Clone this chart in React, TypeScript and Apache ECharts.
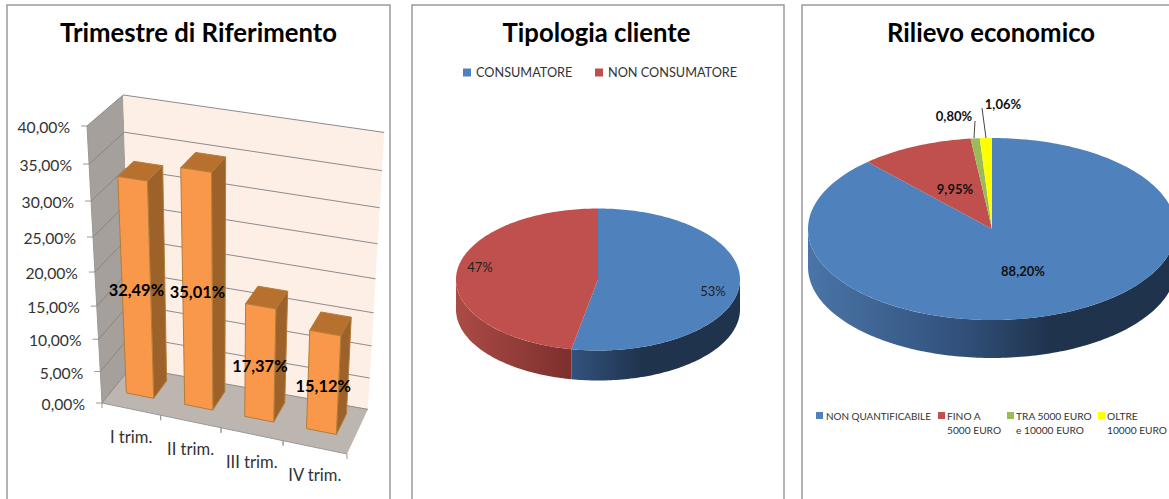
import React, { useEffect, useRef } from "react";
import * as echarts from "echarts";

const quarters = ["I trim.", "II trim.", "III trim.", "IV trim."];
const quarterValues = [32.49, 35.01, 17.37, 15.12];
const valueTicks = [0, 5, 10, 15, 20, 25, 30, 35, 40];
const clientNames = ["CONSUMATORE", "NON CONSUMATORE"];
const clientValues = [53, 47];
const clientLabels = ["53%", "47%"];
const amountNames = ["NON QUANTIFICABILE", "FINO A\n5000 EURO", "TRA 5000 EURO\ne 10000 EURO", "OLTRE\n10000 EURO"];
const amountValues = [88.2, 9.95, 0.8, 1.06];
const amountLabels = ["88,20%", "9,95%", "0,80%", "1,06%"];

const FONT = "Lato, 'Open Sans', sans-serif";
const pieColors = ["#4f81bd", "#c0504d", "#9bbb59", "#ffff00"];

const O = [102, 403], PX = [347, 454], PY = [87, 126], PZ = [131, 367];
const wX = 0.944, wY = 0.897, wZ = 1.03;
function project(X: number, Y: number, Z: number) {
  const w = 1 + X * (wX - 1) + Y * (wY - 1) + Z * (wZ - 1);
  const f = (i: number) => (O[i] + X * (wX * PX[i] - O[i]) + Y * (wY * PY[i] - O[i]) + Z * (wZ * PZ[i] - O[i])) / w;
  // small correction of the back plane so that its corners meet the picture
  const dx = Z * ((1 - X) * Y * 3.5 - X * 2.2);
  const dy = Z * X * ((1 - Y) * -5 + Y * 2);
  return [f(0) + dx, f(1) + dy];
}
const MAX = 40;
const pct = (v: number) => v.toFixed(2).replace(".", ",") + "%";
const BAR_HALF = 0.059, BAR_Z0 = 0.35, BAR_Z1 = 0.82, BAR_SHIFT = -0.005, BAR_SCALE = 0.988;
const barLabelNudge = [-2, -3, 1, 2];
const text = (t: string, x: number, y: number, o: any = {}) => ({
  type: "text",
  silent: true,
  style: { text: t, x, y, fontFamily: FONT, fontSize: 15, fill: "#333", align: "center", verticalAlign: "middle", ...o },
});
const poly = (points: number[][], fill: any, stroke?: string, lineWidth = 1) => ({
  type: "polygon",
  shape: { points },
  style: { fill, stroke: stroke || "none", lineWidth },
});
const line = (points: number[][], stroke: string, lineWidth = 1) => ({
  type: "polyline",
  shape: { points },
  style: { fill: "none", stroke, lineWidth },
});

function wallsItem() {
  return {
    type: "group",
    children: [
      poly([project(0, 0, 0), project(0, 1, 0), project(0, 1, 1), project(0, 0, 1)], "#a5a09c"),
      poly([project(0, 0, 1), project(0, 1, 1), project(1, 1, 1), project(1, 0, 1)], "#fdeee6"),
      poly([project(0, 0, 0), project(1, 0, 0), project(1, 0, 1), project(0, 0, 1)], "#bdb5b0"),
      line([project(0, 0, 0), project(1, 0, 0)], "#999"),
      line([project(0, 0, 0), project(0, 1, 0)], "#999"),
    ],
  };
}
function tickItem(_: any, api: any) {
  const v = api.value(0);
  const Y = v / MAX;
  const a = project(0, Y, 0), b = project(0, Y, 1), c = project(1, Y, 1);
  const children: any[] = [
    line([a, b], "#8a8582"),
    line([b, c], "#8c8c8c"),
    line([[a[0] - 6, a[1]], a], "#999"),
    text(pct(v), a[0] - 17, a[1] + 1, { align: "right", fontSize: 15.7 }),
  ];
  return { type: "group", children };
}
function barItem(_: any, api: any) {
  const i = api.value(0), v = api.value(1);
  const Y = (v / MAX) * BAR_SCALE;
  const c = (i + 0.5) / quarters.length + BAR_SHIFT;
  const x0 = c - BAR_HALF, x1 = c + BAR_HALF;
  const edge = "#b27d3a";
  return {
    type: "group",
    children: [
      poly([project(x0, Y, BAR_Z0), project(x1, Y, BAR_Z0), project(x1, Y, BAR_Z1), project(x0, Y, BAR_Z1)], "#b8702f", edge),
      poly([project(x1, 0, BAR_Z0), project(x1, Y, BAR_Z0), project(x1, Y, BAR_Z1), project(x1, 0, BAR_Z1)], "#9c6229", edge),
      poly([project(x0, 0, BAR_Z0), project(x1, 0, BAR_Z0), project(x1, Y, BAR_Z0), project(x0, Y, BAR_Z0)], "#f9984a", edge),
    ],
  };
}
function barLabelItem(_: any, api: any) {
  const i = api.value(0), v = api.value(1);
  const p = project((i + 0.5) / quarters.length + BAR_SHIFT, (v / MAX / 2) * BAR_SCALE, BAR_Z0);
  return text(pct(v), p[0], p[1] + barLabelNudge[i], { fontWeight: "bold", fontSize: 16.4, fill: "#000" });
}
function catItem(_: any, api: any) {
  const i = api.value(0);
  const a = project(i / quarters.length, 0, 0), b = project((i + 1) / quarters.length, 0, 0);
  const m = project((i + 0.5) / quarters.length, 0, 0);
  return {
    type: "group",
    children: [
      line([a, [a[0], a[1] + 5]], "#999"),
      line([b, [b[0], b[1] + 5]], "#999"),
      text(quarters[i], m[0], m[1] + 27.5, { fontSize: 16.6 }),
    ],
  };
}

type Pie = { cx: number; cy: number; rx: number; ry: number; depth: number; values: number[] };
const pieClient: Pie = { cx: 598, cy: 279.5, rx: 142, ry: 71, depth: 30, values: clientValues };
const pieAmount: Pie = { cx: 992, cy: 229, rx: 184, ry: 91, depth: 38, values: amountValues };

const arc = (p: Pie, a0: number, a1: number, dy = 0) => {
  const n = Math.max(2, Math.ceil(Math.abs(a1 - a0) / 0.02));
  const pts: number[][] = [];
  for (let k = 0; k <= n; k++) {
    const a = a0 + ((a1 - a0) * k) / n;
    pts.push([p.cx + p.rx * Math.sin(a), p.cy - p.ry * Math.cos(a) + dy]);
  }
  return pts;
};
function sideGradient(p: Pie, i: number) {
  const x0 = p.cx - p.rx, x1 = p.cx + p.rx;
  const stops = i === 0
    ? [
        { offset: 0, color: "#4a75a8" },
        { offset: 0.42, color: "#31507a" },
        { offset: 0.66, color: "#1f334d" },
        { offset: 1, color: "#1f334d" },
      ]
    : [
        { offset: 0, color: "#ab4b46" },
        { offset: 0.41, color: "#7b2f2d" },
        { offset: 1, color: "#7b2f2d" },
      ];
  return new echarts.graphic.LinearGradient(x0, 0, x1, 0, stops, true);
}
const pieRender = (p: Pie) => (params: any, api: any) => {
  const i = params.dataIndex;
  const total = p.values.reduce((a, b) => a + b, 0);
  const before = p.values.slice(0, i).reduce((a, b) => a + b, 0);
  const a0 = (before / total) * 2 * Math.PI;
  const a1 = ((before + api.value(0)) / total) * 2 * Math.PI;
  const children: any[] = [];
  const s0 = Math.max(a0, Math.PI / 2), s1 = Math.min(a1, (3 * Math.PI) / 2);
  if (s1 > s0) {
    const top = arc(p, s0, s1);
    const bottom = arc(p, s1, s0, p.depth);
    children.push(poly([...top, ...bottom], sideGradient(p, i)));
  }
  children.push(poly([[p.cx, p.cy], ...arc(p, a0, a1)], pieColors[i]));
  return { type: "group", children };
};
const customBase = { type: "custom", coordinateSystem: "none", silent: true, clip: false, animation: false };

const legendBox = (x: number, y: number, fill: string, w = 8) => ({ type: "rect", silent: true, shape: { x, y, width: w, height: w }, style: { fill } });
const legendText = (t: string, x: number, y: number, fontSize: number, lineHeight = 14) => ({
  type: "text",
  silent: true,
  x,
  y,
  style: { text: t, fontFamily: FONT, fontSize, lineHeight, fill: "#333", align: "left", verticalAlign: "top" },
});
const borderColor = "#9a9a9a";
const border = (points: number[][]) => ({ type: "polyline", silent: true, shape: { points }, style: { fill: "none", stroke: borderColor, lineWidth: 1.5 } });

const titleOf = (t: string, left: number) => ({
  text: t,
  left,
  top: 19,
  padding: 0,
  textAlign: "center",
  textStyle: { fontFamily: FONT, fontSize: 25.7, fontWeight: "bold", color: "#000" },
});

export default function App() {
  const ref = useRef<HTMLDivElement>(null);
  useEffect(() => {
    document.body.style.margin = "0";
    const chart = echarts.init(ref.current!, undefined, { renderer: "svg" });
    chart.setOption({
      animation: false,
      backgroundColor: "#fff",
      title: [titleOf("Trimestre di Riferimento", 198.5), titleOf("Tipologia cliente", 596.5), titleOf("Rilievo economico", 991)],
      graphic: [
        border([[7, 499], [7, 5], [390, 5], [390, 499]]),
        border([[412, 499], [412, 5], [784, 5], [784, 499]]),
        border([[802, 499], [802, 5], [1169, 5]]),
        legendBox(463, 68.5, pieColors[0]),
        legendText(clientNames[0], 476, 65, 12.7),
        legendBox(595, 68.5, pieColors[1]),
        legendText(clientNames[1], 608, 65, 12.7),
        legendBox(816, 412, pieColors[0], 7),
        legendText(amountNames[0], 826, 408.5, 9.9),
        legendBox(938, 412, pieColors[1], 7),
        legendText(amountNames[1], 947, 408.5, 10.2),
        legendBox(1007, 412, pieColors[2], 7),
        legendText(amountNames[2], 1016, 408.5, 10.2),
        legendBox(1098, 412, pieColors[3], 7),
        legendText(amountNames[3], 1107, 408.5, 10.2),
      ],
      series: [
        { ...customBase, name: "walls", z: 1, data: [[0]], renderItem: wallsItem },
        { ...customBase, name: "ticks", z: 2, data: valueTicks.map((v) => [v]), renderItem: tickItem },
        { ...customBase, name: "categories", z: 2, data: quarters.map((_, i) => [i]), renderItem: catItem },
        { ...customBase, name: "Trimestre", z: 3, data: quarterValues.map((v, i) => [i, v]), renderItem: barItem },
        { ...customBase, name: "Trimestre labels", z: 4, data: quarterValues.map((v, i) => [i, v]), renderItem: barLabelItem },
        { ...customBase, name: "Tipologia", z: 3, data: clientValues.map((v) => [v]), renderItem: pieRender(pieClient) },
        {
          ...customBase, name: "Tipologia labels", z: 4, data: clientLabels.map((l) => [l]),
          renderItem: (p: any) => text(clientLabels[p.dataIndex], [713, 480][p.dataIndex], [291, 267][p.dataIndex], { fontSize: 13, fill: "#222" }),
        },
        { ...customBase, name: "Rilievo", z: 3, data: amountValues.map((v) => [v]), renderItem: pieRender(pieAmount) },
        {
          ...customBase, name: "Rilievo labels", z: 4, data: amountLabels.map((l) => [l]),
          renderItem: (p: any) => {
            const i = p.dataIndex;
            const children: any[] = [text(amountLabels[i], [1023, 955, 954, 1003][i], [271, 189, 116, 104][i], { fontSize: 13, fontWeight: "bold", fill: "#111" })];
            if (i === 2) children.push(line([[975, 121], [974, 138]], "#444"));
            if (i === 3) children.push(line([[982, 108], [986, 138]], "#444"));
            return { type: "group", children };
          },
        },
      ],
    });
    return () => chart.dispose();
  }, []);
  return <div ref={ref} style={{ position: "absolute", left: 0, top: 0, width: 1169, height: 499, overflow: "hidden" }} />;
}
